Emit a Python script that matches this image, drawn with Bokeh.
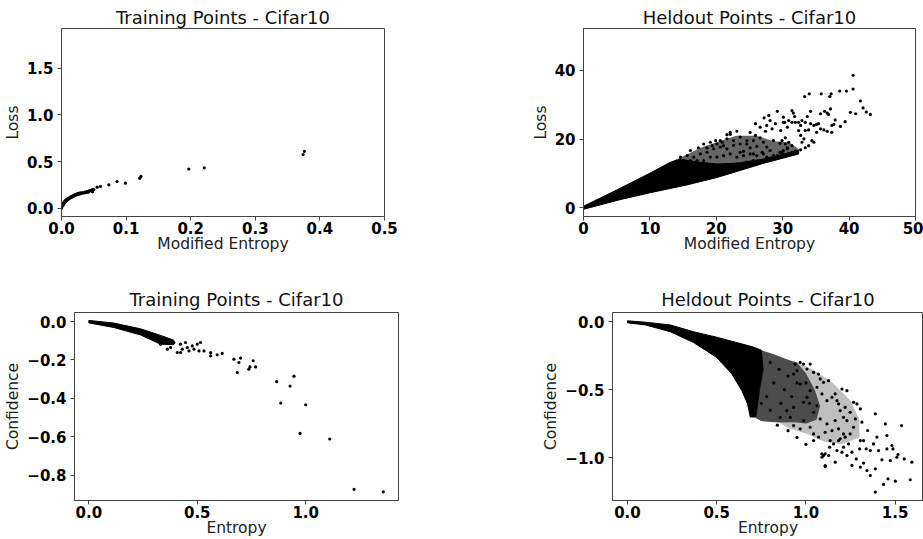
from bokeh.plotting import figure
from bokeh.layouts import column, row
from bokeh.models import FixedTicker, Range1d
from bokeh.embed import file_html
from bokeh.resources import INLINE

FONT = "DejaVu Sans"

# ---------------- data ----------------
titles = ["Training Points - Cifar10", "Heldout Points - Cifar10",
          "Training Points - Cifar10", "Heldout Points - Cifar10"]
x_labels = ["Modified Entropy", "Modified Entropy", "Entropy", "Entropy"]
y_labels = ["Loss", "Loss", "Confidence", "Confidence"]

# panel 1: training, loss vs modified entropy
tr_loss_ticks_x = [0.0, 0.1, 0.2, 0.3, 0.4, 0.5]
tr_loss_ticklabels_x = ["0.0", "0.1", "0.2", "0.3", "0.4", "0.5"]
tr_loss_ticks_y = [0.0, 0.5, 1.0, 1.5]
tr_loss_ticklabels_y = ["0.0", "0.5", "1.0", "1.5"]
tr_loss_pts = [
    (0.0, 0.0), (0.0, 0.01), (0.001, 0.02), (0.001, 0.035), (0.002, 0.03), (0.002, 0.045),
    (0.003, 0.04), (0.003, 0.055), (0.004, 0.05), (0.004, 0.065), (0.005, 0.06), (0.005, 0.072),
    (0.006, 0.07), (0.006, 0.082), (0.007, 0.075), (0.007, 0.088), (0.008, 0.082), (0.008, 0.094),
    (0.009, 0.088), (0.009, 0.098), (0.010, 0.094), (0.010, 0.104), (0.011, 0.10), (0.012, 0.104),
    (0.012, 0.112), (0.013, 0.108), (0.014, 0.112), (0.014, 0.12), (0.015, 0.116), (0.016, 0.12),
    (0.016, 0.128), (0.017, 0.124), (0.018, 0.128), (0.018, 0.136), (0.019, 0.132), (0.020, 0.135),
    (0.020, 0.142), (0.022, 0.14), (0.022, 0.148), (0.024, 0.145), (0.024, 0.153), (0.026, 0.15),
    (0.026, 0.158), (0.028, 0.153), (0.028, 0.162), (0.030, 0.157), (0.030, 0.165), (0.032, 0.16),
    (0.033, 0.168), (0.035, 0.163), (0.036, 0.172), (0.038, 0.168), (0.039, 0.178), (0.041, 0.17),
    (0.042, 0.182), (0.044, 0.185), (0.045, 0.19), (0.047, 0.195), (0.048, 0.20), (0.048, 0.175),
    (0.050, 0.20), (0.0553, 0.225), (0.0604, 0.233), (0.0733, 0.25), (0.086, 0.286), (0.099, 0.268),
    (0.121, 0.32), (0.123, 0.34), (0.197, 0.42), (0.221, 0.433), (0.374, 0.575), (0.376, 0.61),
]

# panel 2: heldout, loss vs modified entropy
ho_loss_ticks_x = [0, 10, 20, 30, 40, 50]
ho_loss_ticklabels_x = ["0", "10", "20", "30", "40", "50"]
ho_loss_ticks_y = [0, 20, 40]
ho_loss_ticklabels_y = ["0", "20", "40"]
ho_loss_dense_outline = [
    (0, 0.5), (5, 5.2), (10, 10.1), (13, 13.2), (14.5, 14.2), (17, 13.4), (20, 12.8),
    (23, 13.0), (27, 14.2), (32.4, 16.8), (32.4, 15.7), (27, 12.9), (23.1, 10.6),
    (20, 8.8), (15.6, 6.7), (10, 4.4), (5.5, 2.4), (0, -0.4),
]
ho_loss_sparse_outline = [
    (13, 13.2), (15.5, 15.5), (17.6, 17.5), (20.6, 19.5), (23, 21.0), (26, 21.0), (28.5, 19.5),
    (31, 19.0), (32.5, 17.0), (27, 14.2), (23, 13.0), (20, 12.8), (17, 13.4), (14.5, 14.2),
]
ho_loss_pts = [
    (40.6, 38.6), (40.6, 34.6), (39.6, 34.0), (38.6, 34.0), (37.3, 33.2), (37.1, 32.4), (35.8, 33.2),
    (34.0, 33.2), (33.3, 32.4), (41.7, 31.1), (42.1, 29.1), (42.6, 27.9), (43.2, 27.2), (40.2, 27.8),
    (41.0, 27.4), (39.4, 25.1), (38.7, 23.7), (37.4, 24.0), (37.9, 25.6), (37.2, 28.8), (36.7, 27.6),
    (36.9, 27.2), (36.3, 28.1), (35.7, 27.4), (37.4, 22.0), (36.7, 22.3), (36.2, 22.7), (35.7, 23.0),
    (35.4, 24.5), (35.1, 24.3), (34.7, 24.0), (34.2, 24.5), (34.2, 28.1), (33.7, 26.6), (33.4, 24.9),
    (32.9, 25.4), (32.4, 24.9), (31.9, 24.9), (31.4, 24.9), (30.9, 25.4), (31.4, 28.3), (31.6, 27.6),
    (31.8, 26.6), (30.1, 26.4), (30.3, 24.9), (30.7, 23.5), (32.7, 24.0), (32.4, 22.5), (33.4, 22.5),
    (33.9, 22.7), (32.7, 21.1), (33.2, 20.1), (32.9, 19.1), (34.4, 19.6), (34.7, 19.1), (33.9, 18.1),
    (33.4, 17.5), (32.7, 16.9), (31.9, 16.5), (31.4, 16.2), (30.9, 15.9), (30.1, 15.5), (29.9, 14.9),
    (37.7, 24.3), (35.1, 22.0), (29.9, 19.6), (30.4, 18.6), (30.9, 19.1), (31.4, 18.1), (30.7, 17.2),
    (30.1, 16.7), (29.2, 28.1), (27.9, 26.9), (27.2, 26.2), (28.1, 25.4), (28.9, 24.5), (27.6, 24.0),
    (26.6, 23.5), (25.9, 24.5), (27.4, 22.3), (28.4, 23.0), (29.7, 22.5), (30.1, 24.9), (23.1, 22.3),
    (22.1, 21.4), (23.6, 20.6), (22.6, 19.6), (21.6, 20.1), (20.6, 19.6), (21.1, 18.1), (20.1, 18.6),
    (19.4, 18.1), (18.6, 17.5), (25.1, 22.0), (25.9, 21.1), (26.6, 20.4), (25.6, 19.6), (24.6, 18.6),
    (25.1, 17.5), (26.1, 17.9), (27.1, 19.1), (27.6, 17.7), (26.9, 16.2), (25.6, 15.7), (24.1, 16.5),
    (28.6, 19.6), (29.6, 18.8), (30.4, 20.4), (30.7, 17.5), (29.9, 16.2), (29.2, 15.2), (16.1, 16.7),
    (17.3, 17.5), (18.1, 18.6), (19.1, 19.1), (19.9, 19.6), (20.9, 19.1), (21.6, 21.3), (22.1, 22.0),
    (17.6, 15.7), (18.6, 16.2), (19.6, 17.2), (20.6, 17.7), (21.6, 17.2), (22.6, 18.2), (23.6, 18.6),
    (24.6, 19.6), (23.6, 16.2), (23.1, 14.8), (24.1, 15.2), (25.1, 15.7), (26.1, 15.2), (27.1, 15.7),
    (28.1, 16.7), (22.1, 15.7), (21.1, 15.2), (20.1, 14.8), (19.1, 14.8), (18.1, 13.8), (17.1, 13.8),
    (16.1, 13.8), (15.1, 13.8), (16.6, 14.8), (15.6, 15.2), (14.6, 14.8), (23.1, 12.8), (24.6, 13.3),
    (25.6, 13.8), (26.6, 13.8), (27.6, 14.8), (28.6, 15.2), (29.6, 16.2),
]

# panel 3: training, confidence vs entropy
tr_conf_ticks_x = [0.0, 0.5, 1.0]
tr_conf_ticklabels_x = ["0.0", "0.5", "1.0"]
tr_conf_ticks_y = [0.0, -0.2, -0.4, -0.6, -0.8]
tr_conf_ticklabels_y = ["0.0", "\u22120.2", "\u22120.4", "\u22120.6", "\u22120.8"]
tr_conf_dense_outline = [
    (0, 0.006), (0.115, -0.008), (0.239, -0.038), (0.331, -0.072), (0.392, -0.097),
    (0.392, -0.12), (0.331, -0.118), (0.239, -0.07), (0.115, -0.031), (0, -0.007),
]
tr_conf_pts = [
    (0.331, -0.118), (0.362, -0.144), (0.377, -0.135), (0.392, -0.109), (0.423, -0.118),
    (0.431, -0.144), (0.408, -0.161), (0.446, -0.109), (0.454, -0.135), (0.477, -0.127),
    (0.485, -0.144), (0.50, -0.118), (0.508, -0.153), (0.515, -0.109), (0.462, -0.153),
    (0.423, -0.161), (0.531, -0.153), (0.562, -0.162), (0.562, -0.179), (0.592, -0.173),
    (0.615, -0.166), (0.669, -0.196), (0.692, -0.213), (0.70, -0.19), (0.685, -0.265),
    (0.738, -0.248), (0.743, -0.236), (0.758, -0.204), (0.769, -0.236), (0.866, -0.313),
    (0.946, -0.284), (0.928, -0.336), (0.885, -0.424), (1.0, -0.433), (0.974, -0.582),
    (1.111, -0.611), (1.223, -0.873), (1.358, -0.886),
]

# panel 4: heldout, confidence vs entropy
ho_conf_ticks_x = [0.0, 0.5, 1.0, 1.5]
ho_conf_ticklabels_x = ["0.0", "0.5", "1.0", "1.5"]
ho_conf_ticks_y = [0.0, -0.5, -1.0]
ho_conf_ticklabels_y = ["0.0", "\u22120.5", "\u22121.0"]
ho_conf_dense_outline = [
    (0, 0.005), (0.1, -0.005), (0.24, -0.025), (0.37, -0.075), (0.5, -0.115), (0.6, -0.15),
    (0.7, -0.185), (0.75, -0.21), (0.76, -0.35), (0.74, -0.5), (0.72, -0.7), (0.688, -0.70),
    (0.673, -0.604), (0.641, -0.507), (0.585, -0.385), (0.5, -0.263), (0.37, -0.154),
    (0.24, -0.075), (0.1, -0.025), (0, -0.01),
]
ho_conf_sparse_outline = [
    (0.75, -0.21), (0.82, -0.24), (0.9, -0.28), (0.95, -0.30), (1.0, -0.38), (1.05, -0.5),
    (1.08, -0.62), (1.06, -0.72), (1.0, -0.75), (0.95, -0.74), (0.85, -0.74),
    (0.75, -0.73), (0.72, -0.71), (0.74, -0.5), (0.76, -0.35),
]
ho_conf_outer_outline = [
    (0.95, -0.30), (1.05, -0.36), (1.15, -0.45), (1.25, -0.58), (1.3, -0.72), (1.3, -0.85),
    (1.2, -0.9), (1.1, -0.88), (1.0, -0.82), (0.9, -0.78), (0.85, -0.74), (0.95, -0.74),
    (1.0, -0.75), (1.06, -0.72), (1.08, -0.62), (1.05, -0.5), (1.0, -0.38),
]
ho_conf_pts = [
    (1.389, -1.25), (1.435, -1.194), (1.46, -1.153), (1.501, -1.17), (1.585, -1.16),
    (1.594, -1.031), (1.551, -1.007), (1.510, -0.995), (1.473, -1.019), (1.516, -0.975),
    (1.454, -0.934), (1.482, -0.909), (1.488, -0.934), (1.426, -1.014), (1.389, -1.08),
    (1.361, -1.129), (1.342, -1.092), (1.323, -1.038), (1.305, -1.068), (1.282, -1.007),
    (1.258, -1.055), (1.230, -0.982), (1.202, -0.958), (1.174, -0.946), (1.164, -1.031),
    (1.108, -1.063), (1.090, -0.995), (1.108, -0.97), (1.133, -0.921), (1.536, -0.763),
    (1.445, -0.751), (1.454, -0.836), (1.398, -0.848), (1.379, -0.897), (1.389, -0.677),
    (1.346, -0.799), (1.305, -0.873), (1.323, -0.873), (1.301, -0.934), (1.338, -0.934),
    (1.361, -0.946), (1.407, -0.946), (1.314, -0.738), (1.267, -0.775), (1.248, -0.824),
    (1.220, -0.848), (1.192, -0.860), (1.239, -0.897), (1.258, -0.958), (1.211, -0.921),
    (1.155, -0.897), (1.183, -0.873), (1.267, -0.592), (1.286, -0.604), (1.305, -0.641),
    (1.248, -0.665), (1.277, -0.714), (1.230, -0.726), (1.211, -0.702), (1.192, -0.653),
    (1.220, -0.629), (1.183, -0.604), (1.174, -0.58), (1.146, -0.556), (1.230, -0.507),
    (1.202, -0.495), (1.164, -0.531), (1.127, -0.434), (1.099, -0.446), (1.080, -0.421),
    (1.071, -0.385), (1.043, -0.373), (1.024, -0.312), (0.987, -0.312), (0.968, -0.30),
    (0.94, -0.312), (1.006, -0.348), (0.950, -0.36), (0.931, -0.385), (0.968, -0.458),
    (1.024, -0.507), (1.006, -0.556), (0.987, -0.592), (1.062, -0.617), (1.043, -0.665),
    (1.080, -0.714), (1.118, -0.751), (1.146, -0.80), (1.108, -0.812), (1.071, -0.848),
    (1.043, -0.824), (1.024, -0.775), (0.987, -0.726), (0.968, -0.787), (0.931, -0.763),
    (1.090, -0.531), (1.118, -0.58), (1.062, -0.482), (0.931, -0.629), (0.893, -0.653),
    (0.856, -0.702), (0.912, -0.702), (1.164, -0.726), (1.183, -0.787), (1.211, -0.824),
    (1.099, -0.982), (1.127, -0.982), (1.136, -0.873), (1.089, -0.97), (1.108, -1.056),
    (1.043, -0.873), (0.80, -0.30), (0.85, -0.35), (0.90, -0.40), (0.82, -0.45), (0.88, -0.50),
    (0.95, -0.45), (0.78, -0.55), (0.86, -0.60), (0.92, -0.55), (0.80, -0.65), (0.75, -0.60),
    (1.00, -0.45), (1.02, -0.60), (0.84, -0.76), (0.90, -0.80), (0.95, -0.85), (1.00, -0.90),
]


def xs(pts):
    return [p[0] for p in pts]


def ys(pts):
    return [p[1] for p in pts]


def make_fig(title, xlabel, ylabel, xr, yr, xt, xtl, yt, ytl,
             width, height, bl, br, bt, bb, top_row=False):
    p = figure(width=width, height=height, output_backend="svg", toolbar_location=None,
               x_range=Range1d(*xr), y_range=Range1d(*yr),
               min_border_left=bl, min_border_right=br, min_border_top=bt,
               min_border_bottom=bb, background_fill_color="white",
               border_fill_color="white")
    p.title.text = title
    p.title.text_font = FONT
    p.title.text_font_size = "18px"
    p.title.text_font_style = "normal"
    p.title.text_color = "#111111"
    p.title.align = "center"
    if top_row:
        p.title.standoff = 0
        p.title.vertical_align = "middle"
    else:
        p.title.standoff = 6
    p.grid.visible = False
    p.outline_line_color = "#444444"
    p.outline_line_width = 1
    for ax, ticks, labels, lab in ((p.xaxis, xt, xtl, xlabel), (p.yaxis, yt, ytl, ylabel)):
        ax.ticker = FixedTicker(ticks=ticks)
        ax.major_label_overrides = {t: l for t, l in zip(ticks, labels)}
        ax.axis_label = lab
        ax.axis_label_text_font = FONT
        ax.axis_label_text_font_size = "15.5px"
        ax.axis_label_text_font_style = "normal"
        ax.axis_label_text_color = "#222222"
        ax.major_label_text_font = FONT
        ax.major_label_text_font_size = "15px"
        ax.major_label_text_font_style = "bold"
        ax.major_label_text_color = "#000000"
        ax.axis_line_color = "#444444"
        ax.major_tick_line_color = "#444444"
        ax.major_tick_out = 4
        ax.major_tick_in = 0
        ax.minor_tick_line_color = None
    p.xaxis.major_label_standoff = 1
    p.xaxis.axis_label_standoff = -2
    p.yaxis.major_label_standoff = 4
    p.yaxis.axis_label_standoff = 2
    return p


p1 = make_fig(titles[0], x_labels[0], y_labels[0], (0.0, 0.5), (-0.089, 1.926),
              tr_loss_ticks_x, tr_loss_ticklabels_x, tr_loss_ticks_y, tr_loss_ticklabels_y,
              500, 280, 61, 116, 28, 64, top_row=True)
p1.scatter(xs(tr_loss_pts), ys(tr_loss_pts), size=3.2, fill_color="black", line_color=None)

p2 = make_fig(titles[1], x_labels[1], y_labels[1], (0, 50), (-2.5, 52.2),
              ho_loss_ticks_x, ho_loss_ticklabels_x, ho_loss_ticks_y, ho_loss_ticklabels_y,
              423, 280, 83, 8, 28, 64, top_row=True)
p2.patch(xs(ho_loss_sparse_outline), ys(ho_loss_sparse_outline), fill_color="black",
         fill_alpha=0.6, line_color=None)
p2.patch(xs(ho_loss_dense_outline), ys(ho_loss_dense_outline), fill_color="black",
         line_color="black", line_width=1)
p2.scatter(xs(ho_loss_pts), ys(ho_loss_pts), size=3.2, fill_color="black", line_color=None)

p3 = make_fig(titles[2], x_labels[2], y_labels[2], (-0.066, 1.428), (-0.931, 0.047),
              tr_conf_ticks_x, tr_conf_ticklabels_x, tr_conf_ticks_y, tr_conf_ticklabels_y,
              520, 259, 74, 122, 32, 39)
p3.patch(xs(tr_conf_dense_outline), ys(tr_conf_dense_outline), fill_color="black",
         line_color="black", line_width=1)
p3.scatter(xs(tr_conf_pts), ys(tr_conf_pts), size=3.2, fill_color="black", line_color=None)

p4 = make_fig(titles[3], x_labels[3], y_labels[3], (-0.084, 1.659), (-1.312, 0.066),
              ho_conf_ticks_x, ho_conf_ticklabels_x, ho_conf_ticks_y, ho_conf_ticklabels_y,
              403, 259, 92, 0, 32, 39)
p4.patch(xs(ho_conf_outer_outline), ys(ho_conf_outer_outline), fill_color="black",
         fill_alpha=0.25, line_color=None)
p4.patch(xs(ho_conf_sparse_outline), ys(ho_conf_sparse_outline), fill_color="black",
         fill_alpha=0.7, line_color=None)
p4.patch(xs(ho_conf_dense_outline), ys(ho_conf_dense_outline), fill_color="black",
         line_color="black", line_width=1)
p4.scatter(xs(ho_conf_pts), ys(ho_conf_pts), size=3.2, fill_color="black", line_color=None)

layout = column(row(p1, p2), row(p3, p4))
open("out.html", "w").write(file_html(layout, INLINE))
